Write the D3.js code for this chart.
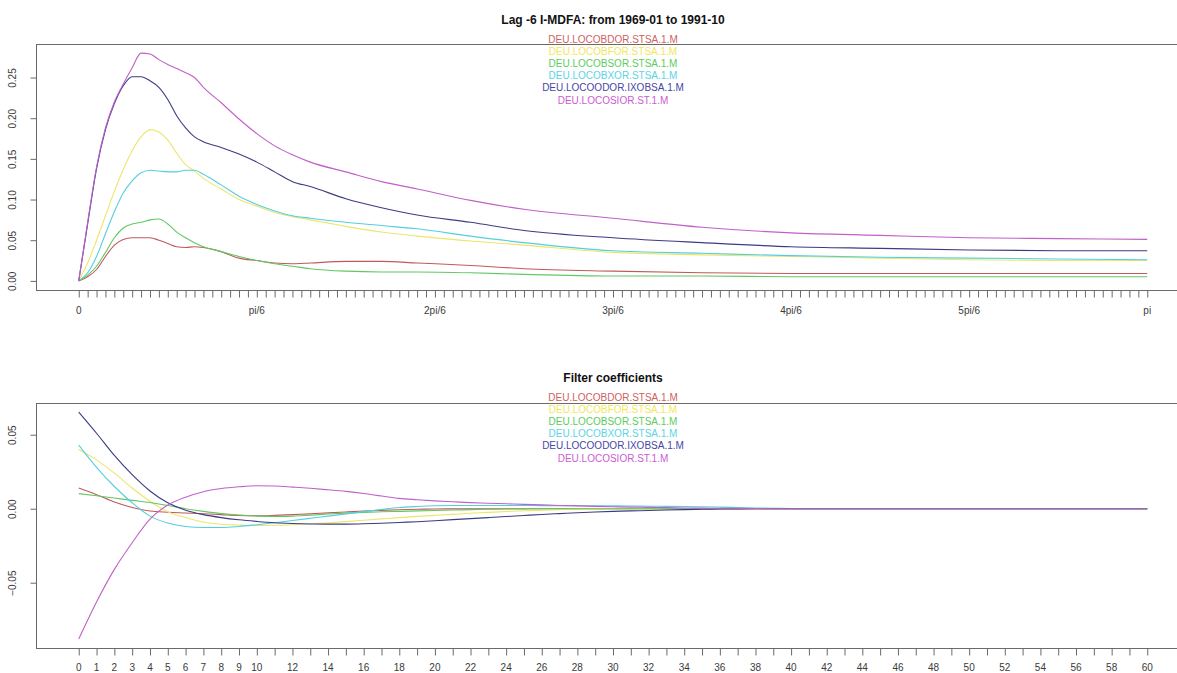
<!DOCTYPE html>
<html>
<head>
<meta charset="utf-8">
<script src="https://cdn.jsdelivr.net/npm/d3@7"></script>
<style>
  html, body { margin: 0; padding: 0; background: #fff; }
  svg { display: block; font-family: "Liberation Sans", Arial, sans-serif; }
</style>
</head>
<body>
<svg id="chart" width="1177" height="673"></svg>
<script>
// ---- Series names and colours ----
const seriesNames = [
  "DEU.LOCOBDOR.STSA.1.M",
  "DEU.LOCOBFOR.STSA.1.M",
  "DEU.LOCOBSOR.STSA.1.M",
  "DEU.LOCOBXOR.STSA.1.M",
  "DEU.LOCOODOR.IXOBSA.1.M",
  "DEU.LOCOSIOR.ST.1.M"
];
const lineColors = ["#c05a5a", "#ece66a", "#62c862", "#55cedd", "#3c3c84", "#c060c8"];
const textColors = ["#d06060", "#f0e85a", "#5ccc5c", "#5cd4e4", "#4646a6", "#cc5cd4"];

// ---- Amplitude panel: frequency grid index k (omega = k*pi/K) ----
const K = 120;
const freqIdx = [0,1,2,3,4,5,6,7,8,9,10,11,12,13,14,16,18,20,22,24,26,30,34,38,44,50,60,70,80,90,100,110,120];
const ampBDOR = [0,0.005,0.014,0.030,0.044,0.051,0.053,0.053,0.053,0.050,0.046,0.042,0.041,0.042,0.041,0.036,0.028,0.025,0.022,0.021,0.022,0.024,0.024,0.022,0.019,0.015,0.012,0.010,0.009,0.009,0.009,0.009,0.009];
const ampBFOR = [0,0.022,0.050,0.080,0.110,0.137,0.160,0.177,0.186,0.183,0.173,0.157,0.143,0.135,0.126,0.113,0.100,0.092,0.084,0.079,0.075,0.067,0.060,0.055,0.049,0.044,0.035,0.032,0.030,0.028,0.026,0.025,0.025];
const ampBSOR = [0,0.007,0.018,0.035,0.053,0.065,0.070,0.072,0.075,0.076,0.070,0.060,0.053,0.047,0.042,0.036,0.030,0.025,0.021,0.018,0.015,0.012,0.011,0.011,0.010,0.008,0.006,0.006,0.005,0.005,0.005,0.005,0.005];
const ampBXOR = [0,0.010,0.030,0.058,0.085,0.108,0.123,0.133,0.136,0.135,0.134,0.134,0.136,0.136,0.131,0.118,0.104,0.094,0.086,0.080,0.077,0.072,0.068,0.064,0.055,0.047,0.037,0.034,0.031,0.029,0.028,0.027,0.026];
const ampODOR = [0,0.070,0.138,0.186,0.218,0.240,0.251,0.251,0.246,0.238,0.223,0.203,0.188,0.177,0.171,0.164,0.156,0.146,0.134,0.122,0.116,0.101,0.090,0.081,0.072,0.062,0.053,0.047,0.042,0.040,0.038,0.037,0.037];
const ampSIOR = [0,0.072,0.140,0.188,0.220,0.242,0.262,0.280,0.279,0.272,0.266,0.261,0.256,0.250,0.238,0.219,0.199,0.181,0.166,0.155,0.146,0.134,0.122,0.113,0.099,0.088,0.077,0.066,0.059,0.056,0.053,0.052,0.051];
const ampSeries = [ampBDOR, ampBFOR, ampBSOR, ampBXOR, ampODOR, ampSIOR];
const freqTickLabels = ["0", "pi/6", "2pi/6", "3pi/6", "4pi/6", "5pi/6", "pi"];
const ampTicks = [0, 0.05, 0.10, 0.15, 0.20, 0.25];

// ---- Filter coefficient panel: lags 0..60 ----
const lags = d3.range(0, 61);
const coefBDOR = [0.0140,0.0095,0.0045,0.0008,-0.0016,-0.0024,-0.0029,-0.0034,-0.0040,-0.0046,-0.0048,-0.0045,-0.0040,-0.0035,-0.0028,-0.0022,-0.0016,-0.0011,-0.0007,-0.0004,-0.0002,-0.0001,0,0,0,0,0,0,0,0,0,0,0,0,0,0,0,0,0,0,0,0,0,0,0,0,0,0,0,0,0,0,0,0,0,0,0,0,0,0,0];
const coefBFOR = [0.0400,0.0330,0.0240,0.0140,0.0050,-0.0020,-0.0060,-0.0090,-0.0105,-0.0110,-0.0113,-0.0112,-0.0108,-0.0102,-0.0095,-0.0087,-0.0078,-0.0069,-0.0060,-0.0052,-0.0045,-0.0038,-0.0031,-0.0025,-0.0019,-0.0014,-0.0010,-0.0006,-0.0003,-0.0001,0,0,0,0,0,0,0,0,0,0,0,0,0,0,0,0,0,0,0,0,0,0,0,0,0,0,0,0,0,0,0];
const coefBSOR = [0.0102,0.0088,0.0072,0.0056,0.0042,0.0022,0.0000,-0.0018,-0.0033,-0.0043,-0.0050,-0.0052,-0.0050,-0.0044,-0.0036,-0.0030,-0.0025,-0.0021,-0.0018,-0.0015,-0.0012,-0.0009,-0.0006,-0.0004,-0.0002,-0.0001,0,0,0,0,0,0,0,0,0,0,0,0,0,0,0,0,0,0,0,0,0,0,0,0,0,0,0,0,0,0,0,0,0,0,0];
const coefBXOR = [0.0430,0.0280,0.0150,0.0040,-0.0050,-0.0097,-0.0120,-0.0127,-0.0127,-0.0120,-0.0108,-0.0095,-0.0080,-0.0065,-0.0050,-0.0035,-0.0020,-0.0005,0.0008,0.0015,0.0020,0.0022,0.0022,0.0022,0.0022,0.0022,0.0021,0.0021,0.0020,0.0020,0.0019,0.0018,0.0017,0.0016,0.0015,0.0013,0.0011,0.0008,0.0005,0.0003,0.0001,0,0,0,0,0,0,0,0,0,0,0,0,0,0,0,0,0,0,0,0];
const coefODOR = [0.0653,0.0510,0.0360,0.0230,0.0120,0.0040,-0.0010,-0.0040,-0.0060,-0.0075,-0.0086,-0.0095,-0.0100,-0.0103,-0.0104,-0.0104,-0.0102,-0.0098,-0.0093,-0.0088,-0.0081,-0.0074,-0.0067,-0.0060,-0.0053,-0.0046,-0.0039,-0.0033,-0.0027,-0.0022,-0.0018,-0.0015,-0.0012,-0.0009,-0.0006,-0.0004,-0.0002,-0.0001,0,0,0,0,0,0,0,0,0,0,0,0,0,0,0,0,0,0,0,0,0,0,0];
const coefSIOR = [-0.0880,-0.0630,-0.0410,-0.0230,-0.0070,0.0025,0.0078,0.0115,0.0136,0.0148,0.0155,0.0153,0.0146,0.0138,0.0128,0.0117,0.0103,0.0086,0.0070,0.0061,0.0053,0.0047,0.0041,0.0037,0.0033,0.0029,0.0026,0.0022,0.0019,0.0016,0.0013,0.0011,0.0009,0.0007,0.0005,0.0004,0.0003,0.0002,0.0001,0,0,0,0,0,0,0,0,0,0,0,0,0,0,0,0,0,0,0,0,0,0];
const coefSeries = [coefBDOR, coefBFOR, coefBSOR, coefBXOR, coefODOR, coefSIOR];
const lagLabels = [0,1,2,3,4,5,6,7,8,9,10,12,14,16,18,20,22,24,26,28,30,32,34,36,38,40,42,44,46,48,50,52,54,56,58,60];
const coefTicks = [-0.05, 0, 0.05];

// ---- Layout ----
const svg = d3.select("#chart");
const plotLeft = 36, plotRight = 1190;
const axisColor = "#6a6a6a";
const labelColor = "#3a3a3a";

// padded domain, 4% each side
function padded(lo, hi) {
  const p = (hi - lo) * 0.04;
  return [lo - p, hi + p];
}

function drawPanel(opts) {
  const g = svg.append("g");
  const x = d3.scaleLinear().domain(padded(opts.xMin, opts.xMax)).range([plotLeft, plotRight]);
  const allVals = opts.series.flat();
  const y = d3.scaleLinear().domain(padded(d3.min(allVals), d3.max(allVals))).range([opts.bottom, opts.top]);

  // title
  g.append("text")
    .attr("x", 613).attr("y", opts.titleY)
    .attr("text-anchor", "middle")
    .attr("font-size", 12).attr("font-weight", "bold")
    .attr("fill", "#111")
    .text(opts.title);

  // data lines
  const clipId = "clip" + opts.id;
  svg.append("clipPath").attr("id", clipId)
    .append("rect").attr("x", plotLeft).attr("y", opts.top)
    .attr("width", plotRight - plotLeft).attr("height", opts.bottom - opts.top);
  const lineGen = d3.line()
    .x(d => x(d[0])).y(d => y(d[1]))
    .curve(d3.curveMonotoneX);
  opts.series.forEach((vals, i) => {
    const pts = vals.map((v, j) => [opts.xs[j], v]);
    g.append("path")
      .attr("clip-path", `url(#${clipId})`)
      .attr("d", lineGen(pts))
      .attr("fill", "none")
      .attr("stroke", lineColors[i])
      .attr("stroke-width", 1.1);
  });

  // frame
  g.append("rect")
    .attr("x", plotLeft + 0.5).attr("y", opts.top + 0.5)
    .attr("width", plotRight - plotLeft).attr("height", opts.bottom - opts.top)
    .attr("fill", "none").attr("stroke", axisColor).attr("stroke-width", 1);

  // y axis
  const yAxis = d3.axisLeft(y).tickValues(opts.yTicks).tickSize(6).tickPadding(9)
    .tickFormat(opts.yFormat);
  const ya = g.append("g").attr("transform", `translate(${plotLeft + 0.5},0)`).call(yAxis);
  ya.select(".domain").remove();
  ya.selectAll("line").attr("stroke", axisColor);
  ya.selectAll("text")
    .attr("font-size", 10).attr("fill", labelColor)
    .attr("font-family", "Liberation Sans, Arial, sans-serif")
    .attr("text-anchor", "middle")
    .attr("transform", function () {
      const ty = d3.select(this.parentNode).attr("transform");
      return null;
    })
    .each(function () {
      d3.select(this).attr("x", 0).attr("dy", null).attr("y", 0)
        .attr("transform", "translate(-21,0) rotate(-90)");
    });

  // x axis
  const xAxis = d3.axisBottom(x).tickValues(opts.xTickVals).tickSize(7).tickFormat("");
  const xa = g.append("g").attr("transform", `translate(0,${opts.bottom + 0.5})`).call(xAxis);
  xa.select(".domain").remove();
  xa.selectAll("line").attr("stroke", axisColor);
  g.append("g").selectAll("text")
    .data(opts.xLabels)
    .join("text")
    .attr("x", d => x(d.v))
    .attr("y", opts.bottom + opts.labelDy)
    .attr("text-anchor", "middle")
    .attr("font-size", 10).attr("fill", labelColor)
    .text(d => d.t);

  // legend
  g.append("g").selectAll("text")
    .data(seriesNames)
    .join("text")
    .attr("x", 613)
    .attr("y", (d, i) => opts.legendY + i * 12.2)
    .attr("text-anchor", "middle")
    .attr("font-size", 10)
    .attr("fill", (d, i) => textColors[i])
    .text(d => d);
}

// amplitude panel
drawPanel({
  id: "amp",
  title: "Lag -6 I-MDFA: from 1969-01 to 1991-10",
  titleY: 24,
  legendY: 42.5,
  top: 44, bottom: 290,
  xMin: 0, xMax: Math.PI,
  xs: freqIdx.map(k => k * Math.PI / K),
  series: ampSeries,
  yTicks: ampTicks,
  yFormat: d3.format(".2f"),
  xTickVals: d3.range(0, K + 1).map(k => k * Math.PI / K),
  xLabels: freqTickLabels.map((t, i) => ({ v: i * Math.PI / 6, t: t })),
  labelDy: 24
});

// filter coefficient panel
drawPanel({
  id: "coef",
  title: "Filter coefficients",
  titleY: 382,
  legendY: 400.5,
  top: 403, bottom: 648,
  xMin: 0, xMax: 60,
  xs: lags,
  series: coefSeries,
  yTicks: coefTicks,
  yFormat: d3.format(".2f"),
  xTickVals: lags,
  xLabels: lagLabels.map(v => ({ v: v, t: String(v) })),
  labelDy: 23
});
</script>
</body>
</html>
